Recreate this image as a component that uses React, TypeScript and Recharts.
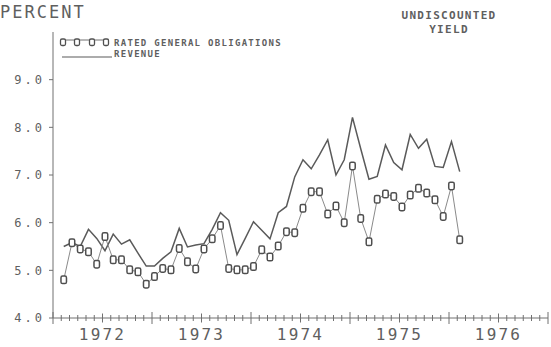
import { ComposedChart, Line, XAxis, YAxis } from "recharts";

// monthly yields, Feb 1972 .. Feb 1976 (month 0 = Jan 1972)
const START_MONTH = 1;
const goYields = [
  4.8, 5.58, 5.45, 5.39, 5.13, 5.71, 5.22, 5.22, 5.01, 4.97, 4.71, 4.87,
  5.04, 5.01, 5.46, 5.18, 5.03, 5.45, 5.66, 5.94, 5.04, 5.01, 5.01, 5.08,
  5.43, 5.28, 5.51, 5.81, 5.79, 6.3, 6.65, 6.65, 6.18, 6.35, 6.0, 7.19,
  6.09, 5.6, 6.49, 6.6, 6.55, 6.33, 6.58, 6.72, 6.62, 6.48, 6.13, 6.77,
  5.64,
];
const revenueYields = [
  5.5, 5.58, 5.5, 5.86, 5.67, 5.41, 5.76, 5.55, 5.64, 5.36, 5.09, 5.09,
  5.25, 5.39, 5.88, 5.49, 5.53, 5.56, 5.86, 6.21, 6.05, 5.33, 5.67, 6.02,
  5.84, 5.66, 6.21, 6.34, 6.96, 7.32, 7.13, 7.42, 7.74, 7.0, 7.32, 8.21,
  7.55, 6.91, 6.97, 7.63, 7.26, 7.11, 7.85, 7.56, 7.75, 7.18, 7.16, 7.7,
  7.07,
];
const yTicks = [4, 5, 6, 7, 8, 9];
const years = ["1972", "1973", "1974", "1975", "1976"];
const monthTicks = Array.from({ length: 61 }, (_, i) => i);

const data = goYields.map((v, i) => ({
  t: START_MONTH + i + 0.3,
  go: v,
  rev: revenueYields[i],
}));

const FONT = "'DejaVu Sans Mono', monospace";
const INK = "#5f5f5f";
const AXIS = "#707070";

function MonthTick(props: any) {
  const { x, y, payload } = props;
  const m = payload.value;
  const len = m % 12 === 0 ? 6 : m % 6 === 0 ? 4.5 : 3;
  const year = m % 12 === 6 ? years[(m - 6) / 12] : null;
  return (
    <g>
      <line x1={x} x2={x} y1={y - len} y2={y + len} stroke={AXIS} strokeWidth={1} />
      {year && (
        <text
          x={x}
          y={y + 22}
          textAnchor="middle"
          fontFamily={FONT}
          fontSize={16}
          letterSpacing={2.2}
          fill={INK}
        >
          {year}
        </text>
      )}
    </g>
  );
}

function YieldTick(props: any) {
  const { x, y, payload } = props;
  return (
    <text
      x={x - 4}
      y={y}
      dy="0.36em"
      textAnchor="end"
      fontFamily={FONT}
      fontSize={12}
      letterSpacing={3}
      fill={INK}
    >
      {payload.value.toFixed(1)}
    </text>
  );
}

// marcador cuadrado de la serie GO
function GoDot(props: any) {
  const { cx, cy } = props;
  if (cx == null || cy == null) return null;
  return (
    <rect
      x={cx - 2.75}
      y={cy - 3.75}
      width={5.5}
      height={7.5}
      rx={1.6}
      fill="#fff"
      stroke="#4f4f4f"
      strokeWidth={1.5}
    />
  );
}

export default function App() {
  return (
    <div style={{ position: "absolute", left: 0, top: 0, width: 551, height: 347, background: "#fff" }}>
      <ComposedChart
        width={551}
        height={347}
        data={data}
        margin={{ top: 32, right: 3, bottom: 0, left: 0 }}
      >
        <XAxis
          dataKey="t"
          type="number"
          domain={[0, 60]}
          ticks={monthTicks}
          interval={0}
          height={29}
          tickSize={0}
          tickMargin={0}
          tick={<MonthTick />}
          axisLine={{ stroke: AXIS, strokeWidth: 1 }}
        />
        <YAxis
          type="number"
          domain={[4, 10]}
          ticks={yTicks}
          width={53}
          tickSize={4}
          tickMargin={0}
          tick={<YieldTick />}
          tickLine={{ stroke: AXIS }}
          axisLine={{ stroke: AXIS, strokeWidth: 1 }}
        />
        <Line
          dataKey="rev"
          type="linear"
          stroke="#5a5a5a"
          strokeWidth={1.5}
          dot={false}
          isAnimationActive={false}
        />
        <Line
          dataKey="go"
          type="linear"
          stroke="#8a8a8a"
          strokeWidth={1}
          dot={<GoDot />}
          isAnimationActive={false}
        />
      </ComposedChart>

      {/* textos y leyenda */}
      <svg
        width={551}
        height={347}
        style={{ position: "absolute", left: 0, top: 0, pointerEvents: "none" }}
      >
        <text x={0} y={18} fontFamily={FONT} fontSize={17} letterSpacing={2} fill={INK}>
          PERCENT
        </text>
        <text x={449} y={19} textAnchor="middle" fontFamily={FONT} fontSize={11} fontWeight="bold" letterSpacing={1.3} fill={INK}>
          UNDISCOUNTED
        </text>
        <text x={449} y={33} textAnchor="middle" fontFamily={FONT} fontSize={11} fontWeight="bold" letterSpacing={1.3} fill={INK}>
          YIELD
        </text>

        <line x1={61} x2={109} y1={40} y2={40} stroke="#707070" strokeWidth={1} />
        {[63, 77, 92, 106].map((mx) => (
          <rect key={mx} x={mx - 2.5} y={39} width={5} height={6.5} rx={1.5} fill="#fff" stroke="#505050" strokeWidth={1.3} />
        ))}
        <line x1={62} x2={112} y1={57} y2={57} stroke="#5a5a5a" strokeWidth={1.2} />
        <text x={114} y={46} fontFamily={FONT} fontSize={9} fontWeight="bold" letterSpacing={1.3} fill={INK}>
          RATED GENERAL OBLIGATIONS
        </text>
        <text x={114} y={57} fontFamily={FONT} fontSize={9} fontWeight="bold" letterSpacing={1.3} fill={INK}>
          REVENUE
        </text>
      </svg>
    </div>
  );
}
